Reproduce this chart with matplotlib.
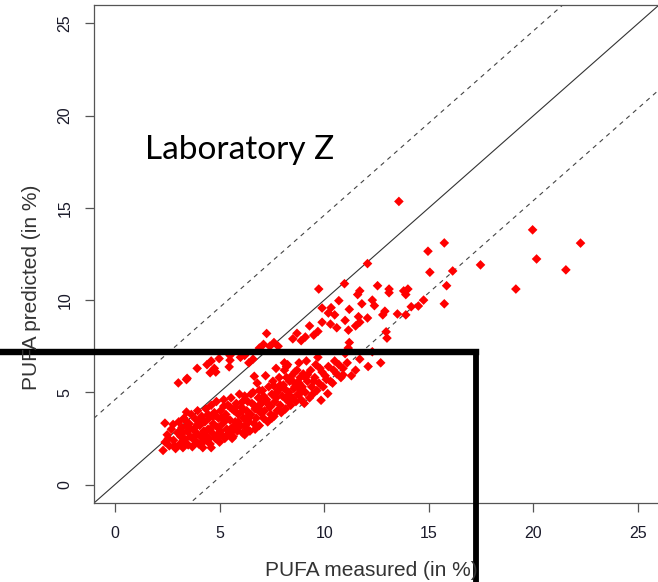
import matplotlib
matplotlib.use("Agg")
import matplotlib.pyplot as plt
from matplotlib.lines import Line2D
import numpy as np

# --- data (PUFA, in %) ---
# main band, below the 1:1 line
band_measured = [
    2.3, 2.4, 2.39, 2.5, 2.6, 2.7, 2.78, 2.8, 2.9, 3.0,
    3.05, 3.1, 3.15, 3.2, 3.25, 3.3, 3.35, 3.42, 3.45, 3.5,
    3.55, 3.6, 3.65, 3.7, 3.75, 3.8, 3.85, 3.9, 3.95, 4.0,
    4.05, 4.1, 4.15, 4.2, 4.25, 4.3, 4.35, 4.4, 4.45, 4.5,
    4.55, 4.6, 4.65, 4.7, 4.75, 4.8, 4.85, 4.9, 4.95, 5.0,
    5.05, 5.1, 5.15, 5.2, 5.25, 5.3, 5.35, 5.4, 5.45, 5.5,
    5.55, 5.6, 5.65, 5.7, 5.75, 5.8, 5.85, 5.9, 5.95, 6.0,
    6.05, 6.1, 6.15, 6.2, 6.25, 6.3, 6.35, 6.4, 6.45, 6.5,
    6.55, 6.6, 6.65, 6.7, 6.75, 6.8, 6.85, 6.9, 6.95, 7.0,
    7.05, 7.1, 7.15, 7.2, 7.25, 7.3, 7.35, 7.4, 7.45, 7.5,
    7.55, 7.6, 7.65, 7.7, 7.75, 7.8, 7.85, 7.9, 7.95, 8.0,
    8.05, 8.1, 8.15, 8.2, 8.25, 8.3, 8.35, 8.4, 8.45, 8.5,
    8.55, 8.6, 8.65, 8.7, 8.75, 8.8, 8.85, 8.9, 8.95, 9.0,
    9.05, 9.1, 9.15, 9.2, 9.3, 9.35, 9.4, 9.45,
    9.55, 9.6, 9.65, 9.7, 9.75, 9.85, 9.9, 9.95,
    10.05, 10.17, 10.2, 10.3, 10.4, 10.45,
    10.6, 10.7, 10.8, 10.9, 11.0,
    11.1, 11.15, 11.2, 11.5, 11.7, 12.1, 12.3, 12.7, 11.3,
    3.1, 3.3, 3.6, 3.9, 4.1, 4.3, 4.5, 4.7, 4.9, 5.1,
    5.3, 5.5, 5.7, 5.9, 6.1, 6.3, 6.5, 6.7, 6.9, 7.1,
    7.3, 7.5, 7.7, 7.9, 8.1, 8.3, 8.5, 8.7, 8.9, 9.1,
    4.2, 4.6, 5.0, 5.6, 6.2,
    2.55, 2.85, 3.2, 3.45, 3.75, 4.0, 4.25, 4.55, 4.8, 5.05,
    5.35, 5.6, 5.85, 6.1, 6.4, 6.65, 6.95, 7.2, 7.45, 7.75,
    8.0, 8.3, 8.6, 8.85, 9.2, 9.5, 9.8, 10.1, 10.5, 10.9,
    3.35, 3.95, 4.45, 5.2, 5.75, 6.35, 6.9, 7.6, 8.2, 8.8,
]
band_predicted = [
    1.85, 2.3, 3.33, 2.7, 2.1, 3.0, 3.26, 2.4, 1.95, 2.8,
    3.4, 2.2, 2.6, 3.1, 2.0, 3.6, 2.45, 3.93, 2.9, 2.15,
    3.3, 2.6, 3.8, 2.05, 3.0, 2.4, 3.55, 2.8, 4.0, 2.2,
    3.2, 2.6, 3.7, 2.0, 2.9, 3.4, 4.1, 2.4, 3.0, 3.6,
    2.2, 4.3, 2.8, 3.3, 3.9, 2.5, 4.5, 3.1, 3.6, 2.3,
    4.0, 2.7, 3.3, 4.6, 2.5, 3.8, 3.0, 4.3, 2.8, 3.5,
    4.7, 3.1, 2.6, 4.0, 3.4, 4.4, 2.9, 3.8, 4.9, 3.2,
    4.2, 2.8, 3.6, 4.8, 3.1, 4.0, 4.5, 3.4, 2.9, 3.8,
    4.4, 5.0, 3.3, 4.1, 3.6, 5.5, 4.7, 3.2, 3.9, 4.4,
    5.1, 3.6, 4.0, 5.9, 4.6, 3.4, 5.3, 4.2, 3.8, 4.9,
    5.6, 3.7, 4.5, 6.3, 4.0, 5.1, 5.8, 4.3, 3.9, 4.8,
    5.4, 6.2, 4.1, 4.6, 6.5, 5.0, 5.6, 4.3, 5.9, 4.7,
    5.2, 6.1, 4.5, 5.5, 4.9, 6.6, 5.8, 4.6, 5.3, 6.0,
    4.4, 5.0, 6.7, 5.6, 4.7, 6.2, 5.3, 4.9,
    5.8, 6.5, 5.1, 6.9, 5.5, 4.57, 6.1, 5.3,
    5.9, 4.93, 6.4, 5.6, 5.5, 6.2,
    6.0, 6.5, 5.8, 6.3, 7.1,
    6.6, 7.4, 7.7, 6.2, 6.8, 6.4, 7.2, 6.6, 5.9,
    2.9, 2.3, 3.0, 2.3, 3.5, 2.7, 2.5, 3.7, 2.7, 3.6,
    2.6, 4.2, 3.0, 3.4, 4.5, 3.3, 4.9, 3.0, 4.3, 4.8,
    4.4, 3.6, 4.7, 5.4, 5.2, 4.5, 5.6, 6.2, 5.0, 5.8,
    2.3, 2.0, 2.6, 2.5, 2.7,
    2.5, 2.1, 2.75, 3.2, 2.55, 3.45, 2.35, 3.0, 3.75, 2.9,
    3.55, 4.1, 3.25, 4.0, 3.6, 4.3, 4.05, 4.5, 4.25, 5.0,
    5.3, 4.85, 5.3, 5.15, 5.95, 5.6, 6.3, 5.7, 6.7, 5.95,
    3.5, 3.25, 3.8, 4.25, 4.15, 3.7, 5.1, 5.35, 5.8, 5.5,
]

# upper group, roughly along the 1:1 line
upper_measured = [
    3.03, 3.42, 3.45, 3.93, 4.4, 4.55, 4.6, 4.75, 4.82, 4.98,
    5.46, 5.5, 5.5, 6.0, 6.2, 6.4, 6.6, 6.66, 6.9, 7.1,
    7.25, 7.4, 7.6, 7.8, 8.1, 8.2,
    8.5, 8.7, 8.9, 9.1, 9.3, 9.5, 9.7, 9.9, 10.3, 10.6,
    11.0, 11.5, 11.7, 9.74, 9.9, 10.33, 10.7, 10.97, 11.7, 11.6,
    11.8, 12.07, 12.3, 12.4, 12.55, 13.1, 13.1, 13.8, 14.0, 13.9,
    12.8, 12.9, 13.5, 13.9, 14.16, 14.5, 14.75, 11.64, 12.07, 11.16,
    13.0, 12.96, 10.2, 10.5, 11.2,
]
upper_predicted = [
    5.51, 5.69, 5.76, 6.3, 6.5, 6.06, 6.7, 6.3, 6.1, 6.83,
    6.38, 7.0, 6.74, 6.9, 7.0, 6.6, 6.8, 5.87, 7.4, 7.6,
    8.19, 7.5, 7.7, 7.5, 6.6, 6.4,
    7.9, 8.2, 7.8, 8.0, 8.6, 8.1, 8.3, 8.8, 8.7, 8.5,
    8.9, 8.6, 8.8, 10.6, 9.57, 9.59, 9.97, 10.89, 10.5, 10.3,
    9.8, 11.98, 10.0, 9.7, 10.78, 10.4, 10.6, 10.5, 10.6, 10.3,
    9.2, 9.4, 9.25, 9.2, 9.64, 9.68, 10.0, 9.1, 9.03, 8.37,
    7.94, 8.28, 9.3, 9.2, 9.5,
]

# scattered high values
high_measured = [13.57, 19.96, 22.25, 15.74, 14.96, 20.15, 15.05,
                 16.14, 17.47, 21.55, 19.16, 15.85, 15.74]
high_predicted = [15.35, 13.81, 13.09, 13.1, 12.65, 12.23, 11.51,
                  11.58, 11.91, 11.64, 10.6, 10.78, 9.8]

ticks = [0, 5, 10, 15, 20, 25]
band_offset = 4.6   # dashed limits: predicted = measured +/- offset

W, H = 658, 582
fig = plt.figure(figsize=(W / 100, H / 100), dpi=100)
ax = fig.add_axes([94 / W, 1 - 503 / H, 565 / W, 498 / H])

measured = np.array(band_measured + upper_measured + high_measured)
predicted = np.array(band_predicted + upper_predicted + high_predicted)

ax.scatter(measured, predicted, marker="D", s=24, color="#ff0000",
           edgecolors="none", zorder=3)

lim = np.array([-1, 26])
ax.plot(lim, lim, color="#333333", lw=0.8, zorder=2)
ax.plot(lim, lim + band_offset, color="#444444", lw=0.8,
        linestyle=(0, (4, 4)), zorder=2)
ax.plot(lim, lim - band_offset, color="#444444", lw=0.8,
        linestyle=(0, (4, 4)), zorder=2)

ax.set_xlim(-1, 26)
ax.set_ylim(-1, 26)
ax.set_xticks(ticks)
ax.set_yticks(ticks)
ax.tick_params(axis="both", length=6.5, width=0.9, color="#555555",
               labelsize=11.5, labelcolor="#1a1a2a")
ax.tick_params(axis="x", pad=10)
ax.tick_params(axis="y", pad=9)
for lbl in ax.get_yticklabels():
    lbl.set_rotation(90)
    lbl.set_va("center")
for sp in ax.spines.values():
    sp.set_color("#555555")
    sp.set_linewidth(0.9)
for lbl in ax.get_xticklabels() + ax.get_yticklabels():
    lbl.set_family("Liberation Sans")

fig.text(371 / W, 1 - 570 / H, "PUFA measured (in %)", ha="center",
         va="center", fontsize=15, color="#333333", family="Liberation Sans")
fig.text(32 / W, 1 - 287 / H, "PUFA predicted (in %)", ha="center",
         va="center", rotation=90, fontsize=15, color="#333333",
         family="Liberation Sans")
fig.text(145 / W, 1 - 159 / H, "Laboratory Z", ha="left", va="baseline",
         fontsize=24, color="black", family="Lato")

# thick black frame drawn over the figure
fig.add_artist(Line2D([0, 476 / W], [1 - 352 / H, 1 - 352 / H],
                      transform=fig.transFigure, color="black", lw=4.6,
                      solid_capstyle="projecting"))
fig.add_artist(Line2D([476 / W, 476 / W], [1 - 352 / H, 0],
                      transform=fig.transFigure, color="black", lw=4.2,
                      solid_capstyle="projecting"))

fig.savefig("out.png", dpi=100)
